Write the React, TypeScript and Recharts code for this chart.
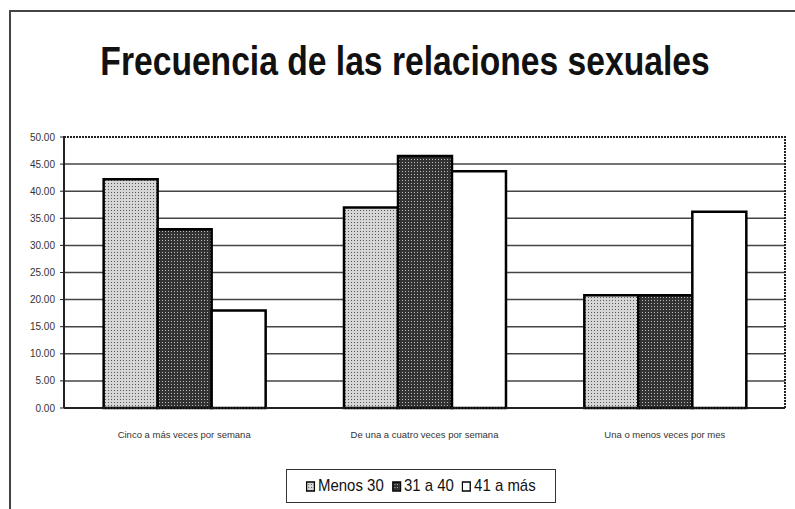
import { BarChart, Bar, XAxis, YAxis, CartesianGrid, Legend, ReferenceArea } from 'recharts';

const categories = [
  'Cinco a más veces por semana',
  'De una a cuatro veces por semana',
  'Una o menos veces por mes',
];
const seriesNames = ['Menos 30', '31 a 40', '41 a más'];
const menos30 = [42.2, 37.0, 20.8];
const de31a40 = [33.0, 46.5, 20.8];
const de41aMas = [18.0, 43.7, 36.2];
const yTicks = [0, 5, 10, 15, 20, 25, 30, 35, 40, 45, 50];

const fills = ['url(#lightDots)', 'url(#darkDots)', '#ffffff'];
const keys = ['menos30', 'de31a40', 'de41aMas'];

const chartData = categories.map((cat, i) => ({
  cat,
  menos30: menos30[i],
  de31a40: de31a40[i],
  de41aMas: de41aMas[i],
}));

const sans = '"Liberation Sans", Arial, sans-serif';

const LegendBox = () => (
  <div
    style={{
      border: '1.5px solid #333',
      width: 270,
      height: 34,
      boxSizing: 'border-box',
      display: 'flex',
      alignItems: 'center',
      justifyContent: 'center',
      background: '#fff',
    }}
  >
    <div
      style={{
        display: 'inline-flex',
        alignItems: 'center',
        gap: 9,
        fontFamily: sans,
        fontSize: 17,
        color: '#111',
        transform: 'scaleX(0.88)',
        whiteSpace: 'nowrap',
      }}
    >
      {seriesNames.map((name, i) => (
        <span key={name} style={{ display: 'inline-flex', alignItems: 'center' }}>
          <svg width={11} height={11} style={{ marginRight: 3 }}>
            <rect x={1} y={1} width={9} height={9} fill={fills[i]} stroke="#000" strokeWidth={1.5} />
          </svg>
          {name}
        </span>
      ))}
    </div>
  </div>
);

const App = () => {
  return (
    <div style={{ position: 'absolute', left: 0, top: 0, width: 795, height: 509, background: '#fff', overflow: 'hidden' }}>
      <div
        style={{
          position: 'absolute', left: 9, top: 10, width: 800, height: 520,
          borderLeft: '2px solid #444', borderTop: '2px solid #444',
        }}
      />
      <div
        style={{
          position: 'absolute', left: 0, width: 810, top: 38, textAlign: 'center',
          fontFamily: sans, fontWeight: 'bold', fontSize: 41, color: '#111',
          transform: 'scaleX(0.82)', whiteSpace: 'nowrap',
        }}
      >
        Frecuencia de las relaciones sexuales
      </div>
      <div style={{ position: 'absolute', left: 0, top: 0 }}>
        <BarChart
          width={795}
          height={509}
          data={chartData}
          margin={{ top: 137, right: 10, bottom: 71, left: 0 }}
          barCategoryGap="16.5%"
          barGap={0}
        >
          <defs>
            <pattern id="lightDots" width={3} height={3} patternUnits="userSpaceOnUse">
              <rect width={3} height={3} fill="#d6d6d6" />
              <rect width={1} height={1} fill="#555" />
            </pattern>
            <pattern id="darkDots" width={3} height={3} patternUnits="userSpaceOnUse">
              <rect width={3} height={3} fill="#333" />
              <rect width={1} height={1} fill="#bbb" />
            </pattern>
          </defs>
          <CartesianGrid
            vertical={false}
            horizontalValues={yTicks.slice(1, -1)}
            stroke="#444"
            strokeWidth={1.5}
          />
          <ReferenceArea
            y1={0}
            y2={50}
            fill="none"
            stroke="#222"
            strokeWidth={2}
            strokeDasharray="2 1"
            ifOverflow="visible"
          />
          <XAxis
            dataKey="cat"
            height={30}
            tickLine={false}
            tickSize={0}
            tickMargin={23}
            axisLine={{ stroke: '#222', strokeWidth: 2, strokeDasharray: '2 1' }}
            tick={{ fontSize: 9.5, fill: '#333', fontFamily: sans }}
            interval={0}
          />
          <YAxis
            width={64}
            domain={[0, 50]}
            ticks={yTicks}
            tickFormatter={(v: number) => v.toFixed(2)}
            tickSize={4}
            tickMargin={5}
            tickLine={{ stroke: '#222' }}
            axisLine={{ stroke: '#222', strokeWidth: 2, strokeDasharray: '2 1' }}
            tick={{ fontSize: 10, fill: '#333', fontFamily: sans }}
          />
          <Legend
            verticalAlign="middle"
            layout="horizontal"
            align="center"
            content={() => <LegendBox />}
            wrapperStyle={{ top: 469, left: 286, width: 'auto' }}
          />
          {keys.map((k, i) => (
            <Bar
              key={k}
              dataKey={k}
              name={seriesNames[i]}
              fill={fills[i]}
              stroke="#000"
              strokeWidth={2.5}
              isAnimationActive={false}
            />
          ))}
        </BarChart>
      </div>
    </div>
  );
};

export default App;
